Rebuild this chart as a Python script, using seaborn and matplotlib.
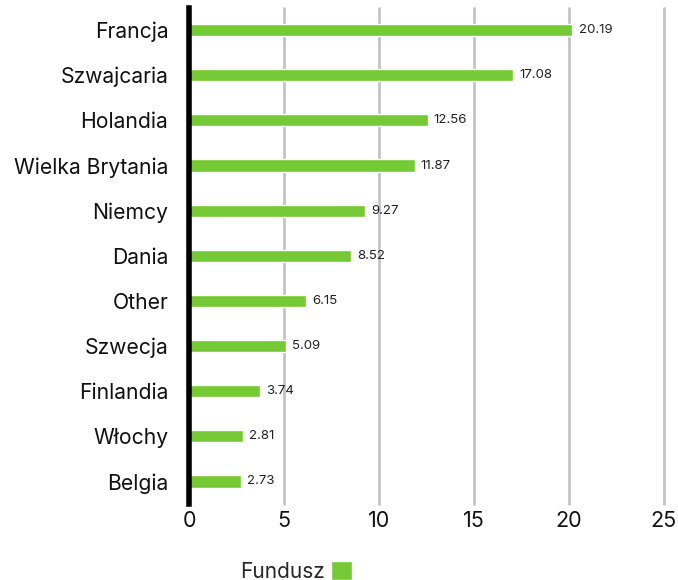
import pandas as pd
import seaborn as sns
import matplotlib.pyplot as plt
from matplotlib.patches import Patch

countries = ["Francja", "Szwajcaria", "Holandia", "Wielka Brytania", "Niemcy", "Dania",
             "Other", "Szwecja", "Finlandia", "Włochy", "Belgia"]
values = [20.19, 17.08, 12.56, 11.87, 9.27, 8.52, 6.15, 5.09, 3.74, 2.81, 2.73]
xticks = [0, 5, 10, 15, 20, 25]

green = "#74c935"

sns.set_theme(style="white")
plt.rcParams['font.family'] = ['Inter', 'DejaVu Sans']

df = pd.DataFrame({"kraj": countries, "wartosc": values})

fig = plt.figure(figsize=(6.78, 5.8), dpi=100)
ax = fig.add_axes([0.279, 0.131, 0.700, 0.856])

sns.barplot(data=df, x="wartosc", y="kraj", color=green, width=0.27, saturation=1, ax=ax, zorder=3)

for i, v in enumerate(values):
  ax.text(v + 0.32, i, f"{v:.2f}", va="center", ha="left", fontsize=9.5, color="#222222")

ax.set_xlim(0, 25)
ax.set_xticks(xticks)
ax.set_xticklabels([str(t) for t in xticks], fontsize=15.5, color="#111111")
ax.tick_params(axis="y", labelsize=15.2, colors="#111111", length=0, pad=15)
ax.tick_params(axis="x", length=0, pad=5)
ax.set_xlabel("")
ax.set_ylabel("")
ax.xaxis.grid(True, color="#c4c4c4", linewidth=2)
for line in ax.get_xgridlines():
  line.set_clip_on(False)
ax.set_axisbelow(True)
sns.despine(ax=ax, top=True, right=True, bottom=True)
ax.spines["left"].set_linewidth(4)
ax.spines["left"].set_color("black")
ax.spines["left"].set_zorder(5)

handles = [Patch(facecolor=green, label="Fundusz")]
fig.legend(handles=handles, loc="lower left", bbox_to_anchor=(0.327, -0.035), frameon=False,
           markerfirst=False, fontsize=15, handlelength=1.0, handleheight=1.0, handletextpad=0.3)

plt.savefig("out.png", dpi=100)
